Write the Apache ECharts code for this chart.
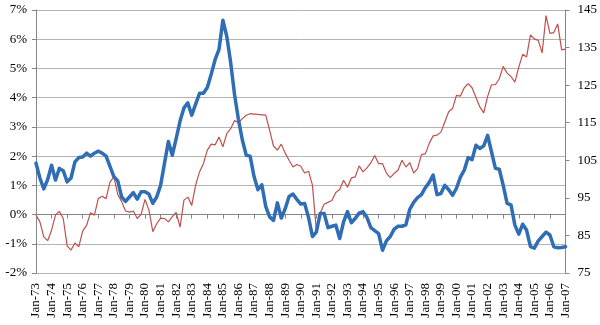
<!DOCTYPE html>
<html>
<head>
<meta charset="utf-8">
<script src="https://cdn.jsdelivr.net/npm/echarts@6/dist/echarts.min.js"></script>
<style>html,body{margin:0;padding:0;background:#fff}#c{width:600px;height:325px}</style>
</head>
<body>
<div id="c"></div>
<script>
// Categories: quarterly, Jan-73 .. Jan-07
var years = [];
for (var y = 1973; y <= 2007; y++) years.push(String(y).slice(2));
var months = ['Jan', 'Apr', 'Jul', 'Oct'];
var categories = [];
years.forEach(function (yy) {
  months.forEach(function (m) {
    if (yy === '07' && m !== 'Jan') return;
    categories.push(m + '-' + yy);
  });
});

// Left axis series (%), thick blue
var blueSeries = [
  1.76, 1.25, 0.88, 1.20, 1.69, 1.18, 1.58, 1.50,
  1.12, 1.25, 1.80, 1.95, 1.97, 2.10, 2.00, 2.10,
  2.17, 2.10, 2.00, 1.65, 1.30, 1.15, 0.60, 0.45,
  0.60, 0.75, 0.53, 0.78, 0.78, 0.70, 0.38, 0.60,
  1.00, 1.75, 2.50, 2.03, 2.60, 3.20, 3.65, 3.82,
  3.40, 3.78, 4.15, 4.15, 4.35, 4.80, 5.30, 5.65,
  6.65, 6.10, 5.20, 4.10, 3.25, 2.55, 2.03, 2.00,
  1.30, 0.85, 1.02, 0.28, -0.08, -0.20, 0.40, -0.12,
  0.20, 0.62, 0.70, 0.52, 0.36, 0.38, -0.10, -0.75,
  -0.60, 0.04, 0.04, -0.45, -0.40, -0.36, -0.82, -0.25,
  0.10, -0.28, -0.13, 0.05, 0.10, -0.10, -0.45, -0.55,
  -0.65, -1.22, -0.90, -0.75, -0.50, -0.40, -0.40, -0.35,
  0.18, 0.42, 0.58, 0.68, 0.92, 1.10, 1.35, 0.68,
  0.72, 1.00, 0.85, 0.66, 0.90, 1.28, 1.52, 1.95,
  1.88, 2.37, 2.26, 2.35, 2.71, 2.14, 1.58, 1.55,
  1.00, 0.38, 0.33, -0.36, -0.67, -0.33, -0.53, -1.10,
  -1.15, -0.90, -0.75, -0.60, -0.70, -1.10, -1.14, -1.13,
  -1.10
];

// Right axis series (index), thin red
var redSeries = [
  90.4, 88.6, 84.6, 83.6, 86.4, 90.4, 91.4, 89.5,
  82.2, 81.1, 83.0, 82.0, 86.2, 87.7, 91.0, 90.4,
  94.8, 95.4, 94.8, 99.2, 100.6, 95.9, 94.0, 91.5,
  91.2, 91.5, 89.5, 90.6, 94.6, 91.8, 86.0, 88.1,
  89.6, 89.5, 88.6, 90.0, 91.1, 87.2, 94.4, 95.2,
  93.0, 98.4, 101.9, 104.1, 107.7, 109.3, 109.1, 111.2,
  108.6, 112.1, 113.4, 115.6, 115.0, 116.1, 117.0, 117.4,
  117.3, 117.2, 117.1, 117.0, 113.0, 108.8, 107.7, 109.3,
  106.9, 105.0, 103.2, 103.9, 103.4, 101.6, 102.1, 98.4,
  86.4, 91.0, 93.3, 93.8, 94.3, 96.4, 97.2, 99.7,
  97.8, 100.3, 100.6, 103.5, 101.9, 103.0, 104.3, 106.3,
  104.1, 104.1, 101.6, 100.4, 101.5, 102.4, 105.0, 103.2,
  104.4, 101.6, 102.8, 106.5, 106.7, 109.5, 111.5, 111.7,
  112.5, 115.2, 117.9, 118.8, 122.3, 122.1, 124.3, 125.4,
  124.3, 121.7, 119.2, 117.6, 122.0, 125.1, 125.1, 126.7,
  130.0, 128.2, 127.3, 125.8, 129.8, 133.2, 132.5, 138.4,
  137.3, 136.9, 133.6, 143.5, 138.8, 139.0, 141.3, 134.4,
  134.6
];

var font = '"Liberation Serif", serif';
var axisGray = '#868686';

var chart = echarts.init(document.getElementById('c'), null, {renderer: 'canvas'});
chart.setOption({
  animation: false,
  backgroundColor: '#ffffff',
  grid: {left: 36, right: 33, top: 10, bottom: 52, containLabel: false},
  xAxis: {
    type: 'category',
    data: categories,
    boundaryGap: false,
    axisLine: {lineStyle: {color: axisGray, width: 1}},
    axisTick: {show: true, interval: 3, length: 4, lineStyle: {color: axisGray}},
    axisLabel: {
      interval: 3, rotate: 90, margin: 10,
      fontFamily: font, fontSize: 13, color: '#000'
    },
    splitLine: {show: false}
  },
  yAxis: [
    {
      type: 'value', min: -2, max: 7, interval: 1, position: 'left',
      axisLine: {show: true, lineStyle: {color: axisGray}},
      axisTick: {show: true, length: 4, lineStyle: {color: axisGray}},
      axisLabel: {formatter: '{value}%', fontFamily: font, fontSize: 13, color: '#000', margin: 9},
      splitLine: {show: true, lineStyle: {color: '#b4b4b4', width: 1}}
    },
    {
      type: 'value', min: 75, max: 145, interval: 10, position: 'right',
      axisLine: {show: true, lineStyle: {color: axisGray}},
      axisTick: {show: true, length: 4, lineStyle: {color: axisGray}},
      axisLabel: {fontFamily: font, fontSize: 13, color: '#000', margin: 12},
      splitLine: {show: false}
    }
  ],
  series: [
    {
      type: 'line', name: 'Red', yAxisIndex: 1, data: redSeries,
      symbol: 'none', lineStyle: {color: '#c0504d', width: 1.2},
      z: 2
    },
    {
      type: 'line', name: 'Blue', yAxisIndex: 0, data: blueSeries,
      symbol: 'none', lineStyle: {color: '#2f6db5', width: 3.5, join: 'round', cap: 'round'},
      z: 3
    }
  ]
});
</script>
</body>
</html>
